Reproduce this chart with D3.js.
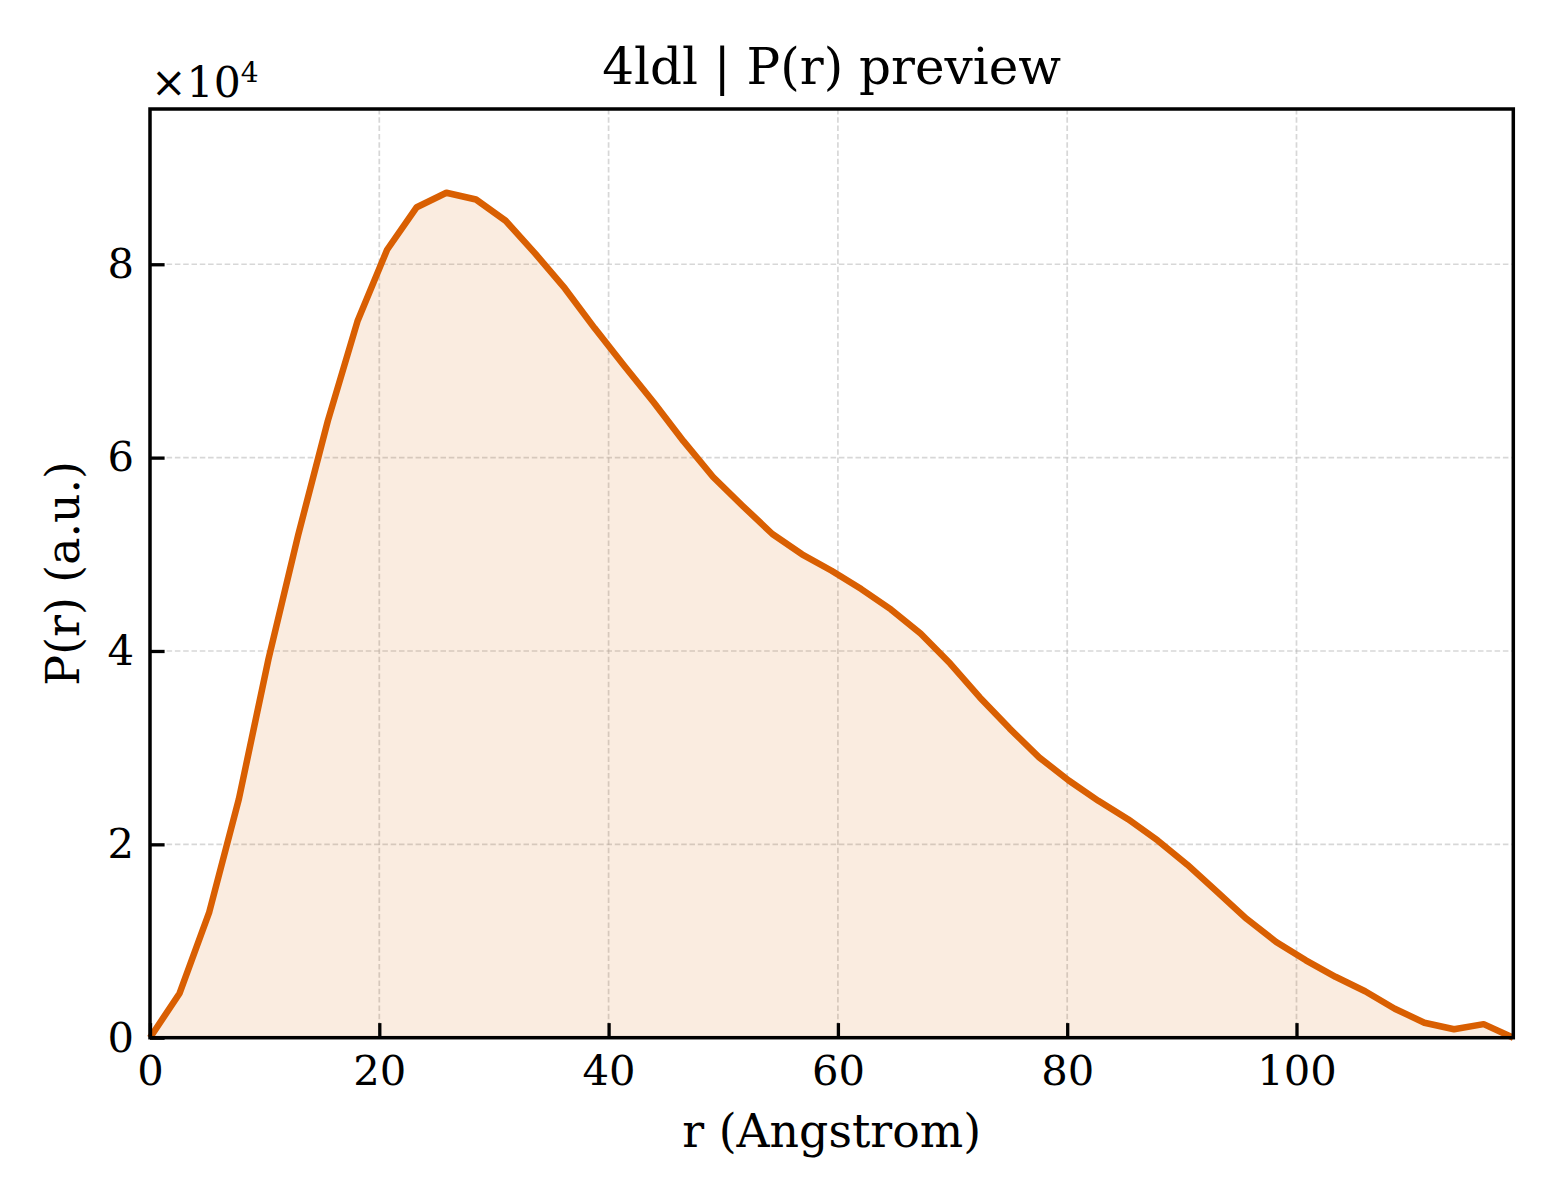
<!DOCTYPE html>
<html>
<head>
<meta charset="utf-8">
<script src="https://cdn.jsdelivr.net/npm/d3@7/dist/d3.min.js"></script>
<style>
  html, body { margin: 0; padding: 0; background: #ffffff; }
  svg { display: block; font-family: "DejaVu Serif", serif; }
</style>
</head>
<body>
<svg id="chart" width="1560" height="1200"></svg>
<script>
// ---- data ----
const rValues = [0, 2.585, 5.17, 7.755, 10.34, 12.925, 15.51, 18.095, 20.68, 23.265,
  25.85, 28.435, 31.02, 33.605, 36.19, 38.775, 41.36, 43.945, 46.53, 49.115,
  51.7, 54.285, 56.87, 59.455, 62.04, 64.625, 67.21, 69.795, 72.38, 74.965,
  77.55, 80.135, 82.72, 85.305, 87.89, 90.475, 93.06, 95.645, 98.23, 100.815,
  103.4, 105.985, 108.57, 111.155, 113.74, 116.325, 118.91];
const prValues = [0, 4600, 13000, 24700, 39200, 52000, 63800, 74100, 81500, 85900,
  87400, 86700, 84500, 81100, 77500, 73400, 69500, 65700, 61700, 58000,
  55000, 52100, 50000, 48300, 46400, 44300, 41800, 38700, 35200, 32000,
  29000, 26600, 24500, 22600, 20400, 17900, 15100, 12300, 9900, 8000,
  6300, 4800, 3000, 1550, 870, 1400, 0];
const xTicks = [0, 20, 40, 60, 80, 100];
const yTicks = [0, 20000, 40000, 60000, 80000];
const titleText = "4ldl | P(r) preview";
const xLabelText = "r (Angstrom)";
const yLabelText = "P(r) (a.u.)";
const xMax = 118.91;
const yMax = 96060;

// ---- layout ----
const plotL = 150, plotR = 1513.3, plotT = 109, plotB = 1037.7;
const lineColor = "#d95f02";

const svg = d3.select("#chart");
svg.append("rect").attr("width", 1560).attr("height", 1200).attr("fill", "#ffffff");

const x = d3.scaleLinear().domain([0, xMax]).range([plotL, plotR]);
const y = d3.scaleLinear().domain([0, yMax]).range([plotB, plotT]);

const data = rValues.map((r, i) => ({ r, p: prValues[i] }));

// grid
const grid = svg.append("g");
grid.selectAll("line.gx").data(xTicks.filter(t => t > 0)).enter().append("line")
  .attr("x1", d => x(d)).attr("x2", d => x(d)).attr("y1", plotT).attr("y2", plotB)
  .attr("stroke", "#b0b0b0").attr("stroke-opacity", 0.5).attr("stroke-width", 1.7)
  .attr("stroke-dasharray", "5.5,2.8");
grid.selectAll("line.gy").data(yTicks.filter(t => t > 0)).enter().append("line")
  .attr("y1", d => y(d)).attr("y2", d => y(d)).attr("x1", plotL).attr("x2", plotR)
  .attr("stroke", "#b0b0b0").attr("stroke-opacity", 0.5).attr("stroke-width", 1.7)
  .attr("stroke-dasharray", "5.5,2.8");

// area
const area = d3.area().x(d => x(d.r)).y0(y(0)).y1(d => y(d.p));
svg.append("path").datum(data).attr("d", area)
  .attr("fill", lineColor).attr("fill-opacity", 0.12);

// line
const line = d3.line().x(d => x(d.r)).y(d => y(d.p));
svg.append("path").datum(data).attr("d", line)
  .attr("fill", "none").attr("stroke", lineColor).attr("stroke-width", 6.5)
  .attr("stroke-linejoin", "round").attr("stroke-linecap", "butt");

// axes
const tickFont = 41.7;
const xAxis = d3.axisBottom(x).tickValues(xTicks).tickFormat(d3.format("d"))
  .tickSizeInner(-14.6).tickSizeOuter(0).tickPadding(18);
const gx = svg.append("g").attr("transform", `translate(0,${plotB})`).call(xAxis);
gx.select(".domain").remove();
gx.selectAll(".tick line").attr("stroke", "#000").attr("stroke-width", 3.3);
gx.selectAll(".tick text").attr("font-size", tickFont).attr("fill", "#000")
  .attr("font-family", "DejaVu Serif");

const yAxis = d3.axisLeft(y).tickValues(yTicks).tickFormat(d => d3.format("d")(d / 10000))
  .tickSizeInner(-14.6).tickSizeOuter(0).tickPadding(16);
const gy = svg.append("g").attr("transform", `translate(${plotL},0)`).call(yAxis);
gy.select(".domain").remove();
gy.selectAll(".tick line").attr("stroke", "#000").attr("stroke-width", 3.3);
gy.selectAll(".tick text").attr("font-size", tickFont).attr("fill", "#000")
  .attr("font-family", "DejaVu Serif");

// frame
svg.append("rect").attr("x", plotL).attr("y", plotT)
  .attr("width", plotR - plotL).attr("height", plotB - plotT)
  .attr("fill", "none").attr("stroke", "#000").attr("stroke-width", 3.5);

// offset text
const off = svg.append("text").attr("x", 151).attr("y", 96.5)
  .attr("font-size", 42.5).attr("fill", "#000");
off.append("tspan").text("×10");
off.append("tspan").attr("font-size", 28).attr("dy", -15).text("4");

// title
svg.append("text").attr("x", (plotL + plotR) / 2).attr("y", 84)
  .attr("text-anchor", "middle").attr("font-size", 50).attr("fill", "#000")
  .text(titleText);

// axis labels
svg.append("text").attr("x", (plotL + plotR) / 2).attr("y", 1146.5)
  .attr("text-anchor", "middle").attr("font-size", 45.8).attr("fill", "#000")
  .text(xLabelText);
svg.append("text")
  .attr("transform", `translate(79,${(plotT + plotB) / 2}) rotate(-90)`)
  .attr("text-anchor", "middle").attr("font-size", 45.8).attr("fill", "#000")
  .text(yLabelText);
</script>
</body>
</html>
